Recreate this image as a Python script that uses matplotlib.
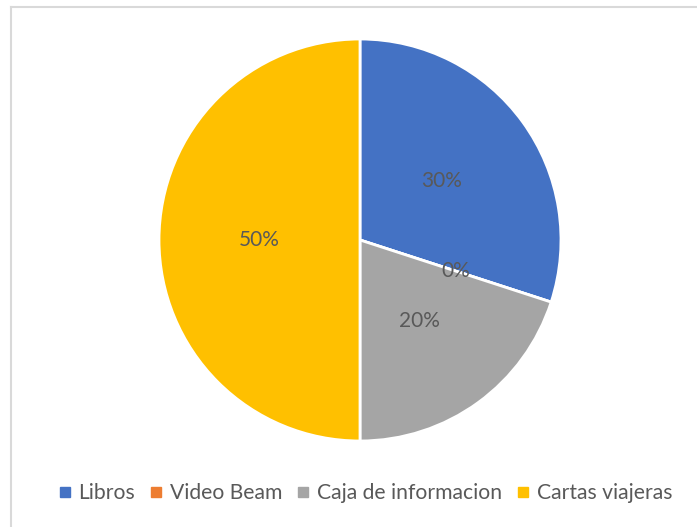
import matplotlib
matplotlib.use('Agg')
import matplotlib.pyplot as plt
from matplotlib.lines import Line2D

# ---------- Datos ---------- #
categorias = ['Libros', 'Video Beam', 'Caja de informacion', 'Cartas viajeras']
valores = [30, 0, 20, 50]
colores = ['#4472C4', '#ED7D31', '#A5A5A5', '#FFC000']

plt.rcParams['font.family'] = ['Lato', 'DejaVu Sans']
texto = '#595959'

fig = plt.figure(figsize=(6.97, 5.27), dpi=100)

# borde del grafico
fig.add_artist(plt.Line2D([11 / 697, 11 / 697], [0, 1 - 7 / 527], color='#D9D9D9', lw=1.5))
fig.add_artist(plt.Line2D([11 / 697, 1], [1 - 7 / 527, 1 - 7 / 527], color='#D9D9D9', lw=1.5))

# ---------- Pastel ---------- #
cx, cy, r = 360, 240, 203
ax = fig.add_axes([(cx - r) / 697, 1 - (cy + r) / 527, 2 * r / 697, 2 * r / 527])
wedges, _, autotexts = ax.pie(valores, colors=colores, startangle=90, counterclock=False,
                              autopct='%d%%', pctdistance=0.5, radius=1,
                              wedgeprops=dict(edgecolor='white', linewidth=2))
for t in autotexts:
    t.set_color(texto)
    t.set_fontsize(15)
ax.set_xlim(-1.01, 1.01)
ax.set_ylim(-1.01, 1.01)
ax.set_aspect('equal')
ax.axis('off')

# ---------- Leyenda ---------- #
handles = [Line2D([], [], marker='s', linestyle='', markersize=7, color=c) for c in colores]
fig.legend(handles, categorias, loc='center', bbox_to_anchor=(366 / 697, 1 - 493 / 527),
           ncol=4, frameon=False, fontsize=15.2, labelcolor=texto,
           handlelength=0.5, handletextpad=0.4, columnspacing=0.75)

fig.savefig('out.png', dpi=100)
